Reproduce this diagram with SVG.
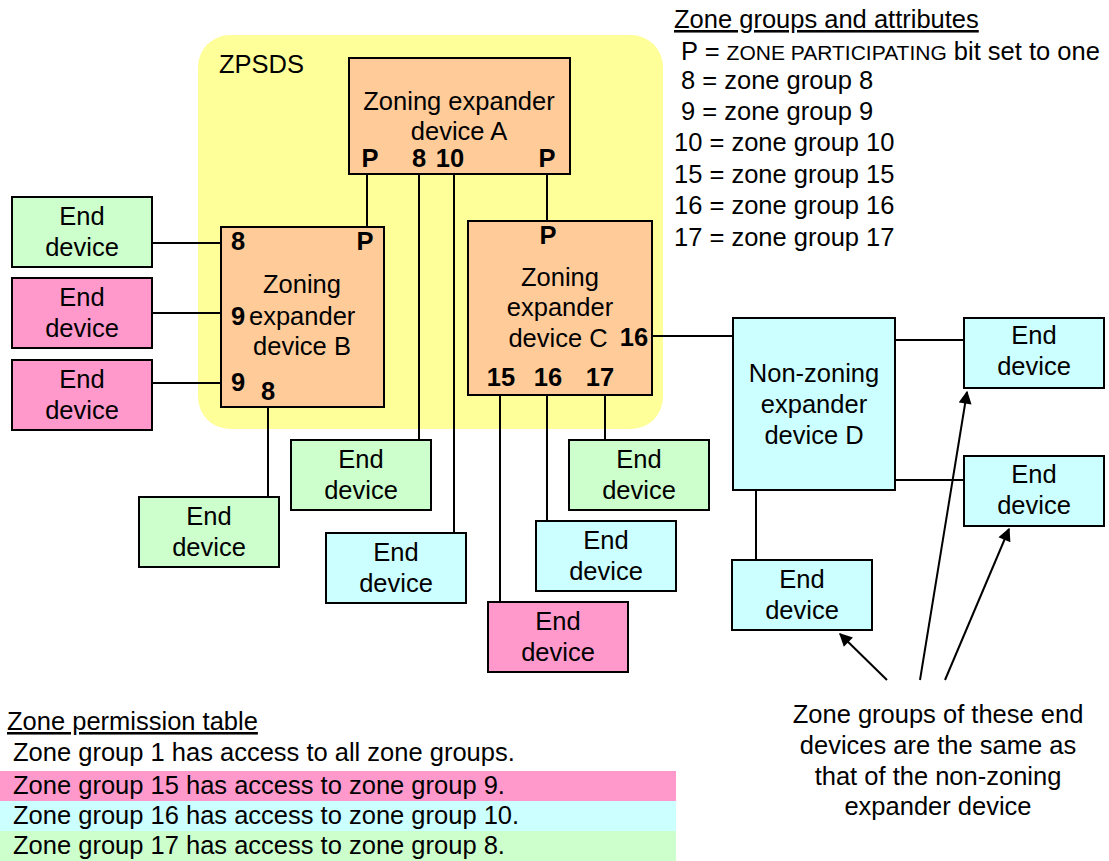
<svg xmlns="http://www.w3.org/2000/svg" width="1109" height="861" viewBox="0 0 1109 861">
<style>
text{font-family:"Liberation Sans",Arial,sans-serif;font-size:25.5px;fill:#000}
.b{font-weight:bold}
.c{text-anchor:middle}
.box{stroke:#000;stroke-width:2}
.zx{fill:#FFCC99}
.g{fill:#CCFFCC}
.p{fill:#FF99CC}
.cy{fill:#CCFFFF}
.ln{stroke:#000;stroke-width:2;fill:none}
.ar{stroke:#000;stroke-width:2;fill:none;marker-end:url(#ah)}
</style>
<defs>
<marker id="ah" viewBox="0 0 10 10" refX="9" refY="5" markerWidth="16" markerHeight="13" markerUnits="userSpaceOnUse" orient="auto">
<path d="M0,0 L10,5 L0,10 z" fill="#000"/>
</marker>
</defs>
<rect width="1109" height="861" fill="#fff"/>
<g id="zpsds">
<rect x="198" y="35" width="465" height="394" rx="32" fill="#FFFF99"/>
<text x="219" y="73">ZPSDS</text>
</g>
<g id="connectors">
<path class="ln" d="M367,174V227M547,174V221M419,174V440M454,174V533"/>
<path class="ln" d="M152,243H221M152,313H221M152,383H221M268,407V497"/>
<path class="ln" d="M500,395V602M547,395V521M605,395V440M652,336H733"/>
<path class="ln" d="M895,340H964M895,480H964M756,490V560"/>
<path class="ar" d="M887,680L840,634"/>
<path class="ar" d="M920,680L967,392"/>
<path class="ar" d="M945,680L1009,529"/>
</g>
<g id="devA">
<rect class="box zx" x="349" y="58" width="221" height="116"/>
<text class="c" x="459" y="110">Zoning expander</text>
<text class="c" x="459" y="140">device A</text>
<text class="b c" x="370" y="167">P</text>
<text class="b c" x="419" y="167">8</text>
<text class="b c" x="450" y="167">10</text>
<text class="b c" x="547" y="167">P</text>
</g>
<g id="devB">
<rect class="box zx" x="221" y="227" width="163" height="180"/>
<text class="b" x="231" y="250">8</text>
<text class="b c" x="365" y="250">P</text>
<text class="c" x="302" y="293">Zoning</text>
<text class="b" x="231" y="325">9</text>
<text x="249" y="325">expander</text>
<text class="c" x="302" y="355">device B</text>
<text class="b" x="231" y="391">9</text>
<text class="b c" x="268" y="400">8</text>
</g>
<g id="devC">
<rect class="box zx" x="468" y="221" width="184" height="174"/>
<text class="b c" x="548" y="244">P</text>
<text class="c" x="560" y="286">Zoning</text>
<text class="c" x="560" y="316">expander</text>
<text class="c" x="558" y="347">device C</text>
<text class="b c" x="634" y="346">16</text>
<text class="b c" x="501" y="386">15</text>
<text class="b c" x="548" y="386">16</text>
<text class="b c" x="600" y="386">17</text>
</g>
<g id="devD">
<rect class="box cy" x="733" y="318" width="162" height="172"/>
<text class="c" x="814" y="382">Non-zoning</text>
<text class="c" x="814" y="413">expander</text>
<text class="c" x="814" y="444">device D</text>
</g>
<g id="end1"><rect class="box g" x="12" y="197" width="140" height="70"/><text class="c" x="82" y="225">End</text><text class="c" x="82" y="256">device</text></g>
<g id="end2"><rect class="box p" x="12" y="278" width="140" height="70"/><text class="c" x="82" y="306">End</text><text class="c" x="82" y="337">device</text></g>
<g id="end3"><rect class="box p" x="12" y="360" width="140" height="70"/><text class="c" x="82" y="388">End</text><text class="c" x="82" y="419">device</text></g>
<g id="end4"><rect class="box g" x="139" y="497" width="140" height="70"/><text class="c" x="209" y="525">End</text><text class="c" x="209" y="556">device</text></g>
<g id="end5"><rect class="box g" x="291" y="440" width="140" height="70"/><text class="c" x="361" y="468">End</text><text class="c" x="361" y="499">device</text></g>
<g id="end6"><rect class="box cy" x="326" y="533" width="140" height="70"/><text class="c" x="396" y="561">End</text><text class="c" x="396" y="592">device</text></g>
<g id="end7"><rect class="box p" x="488" y="602" width="140" height="70"/><text class="c" x="558" y="630">End</text><text class="c" x="558" y="661">device</text></g>
<g id="end8"><rect class="box cy" x="536" y="521" width="140" height="70"/><text class="c" x="606" y="549">End</text><text class="c" x="606" y="580">device</text></g>
<g id="end9"><rect class="box g" x="569" y="440" width="140" height="70"/><text class="c" x="639" y="468">End</text><text class="c" x="639" y="499">device</text></g>
<g id="end10"><rect class="box cy" x="964" y="318" width="140" height="70"/><text class="c" x="1034" y="344">End</text><text class="c" x="1034" y="375">device</text></g>
<g id="end11"><rect class="box cy" x="964" y="456" width="140" height="70"/><text class="c" x="1034" y="483">End</text><text class="c" x="1034" y="514">device</text></g>
<g id="end12"><rect class="box cy" x="732" y="560" width="140" height="70"/><text class="c" x="802" y="588">End</text><text class="c" x="802" y="619">device</text></g>
<g id="note">
<text class="c" x="938" y="723">Zone groups of these end</text>
<text class="c" x="938" y="754">devices are the same as</text>
<text class="c" x="938" y="785">that of the non-zoning</text>
<text class="c" x="938" y="815">expander device</text>
</g>
<g id="legend">
<text x="674" y="28" text-decoration="underline">Zone groups and attributes</text>
<text x="681" y="60">P = <tspan font-size="21">ZONE PARTICIPATING</tspan> bit set to one</text>
<text x="681" y="89">8 = zone group 8</text>
<text x="681" y="120">9 = zone group 9</text>
<text x="674" y="151">10 = zone group 10</text>
<text x="674" y="183">15 = zone group 15</text>
<text x="674" y="214">16 = zone group 16</text>
<text x="674" y="246">17 = zone group 17</text>
</g>
<g id="table">
<rect x="0" y="771" width="676" height="30" fill="#FF99CC"/>
<rect x="0" y="801" width="676" height="30" fill="#CCFFFF"/>
<rect x="0" y="831" width="676" height="30" fill="#CCFFCC"/>
<text x="7" y="730" text-decoration="underline">Zone permission table</text>
<text x="13" y="761">Zone group 1 has access to all zone groups.</text>
<text x="13" y="794">Zone group 15 has access to zone group 9.</text>
<text x="13" y="824">Zone group 16 has access to zone group 10.</text>
<text x="13" y="854">Zone group 17 has access to zone group 8.</text>
</g>
</svg>
